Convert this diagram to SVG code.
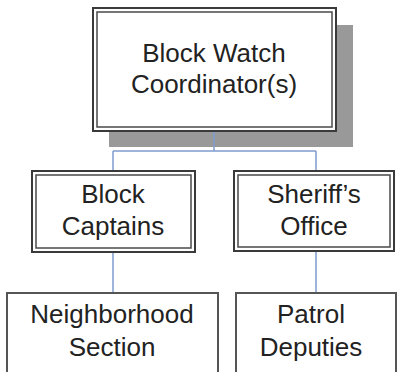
<svg xmlns="http://www.w3.org/2000/svg" width="398" height="372" viewBox="0 0 398 372">
<style>
.outer{fill:#fff;stroke:#3a3a3a;stroke-width:2}
.inner{fill:none;stroke:#4a4a4a;stroke-width:1.5}
.single{fill:#fff;stroke:#555;stroke-width:2}
.conn{fill:none;stroke:#7f9ccf;stroke-width:1.5}
text{font-family:"Liberation Sans",Arial,sans-serif;font-size:26px;fill:#222;text-anchor:middle}
</style>
<rect x="109" y="25" width="244" height="122" fill="#999"/>
<g id="connectors">
<path class="conn" d="M214 131V151M113 151H316M113 151V171M316 151V171M113 252V293M316 251V293"/>
</g>
<g id="coordinator">
<rect class="outer" x="93" y="8" width="243" height="123"/>
<rect class="inner" x="97" y="12" width="235" height="115"/>
<text x="214" y="62">Block Watch</text>
<text x="214" y="93">Coordinator(s)</text>
</g>
<g id="captains">
<rect class="outer" x="32" y="171" width="163" height="81"/>
<rect class="inner" x="36" y="175" width="155" height="73"/>
<text x="113" y="203">Block</text>
<text x="113" y="235">Captains</text>
</g>
<g id="sheriff">
<rect class="outer" x="234" y="171" width="160" height="80"/>
<rect class="inner" x="238" y="175" width="152" height="72"/>
<text x="314" y="203">Sheriff’s</text>
<text x="314" y="235">Office</text>
</g>
<g id="neighborhood">
<rect class="single" x="7" y="293" width="211" height="100"/>
<text x="112" y="323">Neighborhood</text>
<text x="112" y="356">Section</text>
</g>
<g id="patrol">
<rect class="single" x="236" y="293" width="160" height="100"/>
<text x="311" y="323">Patrol</text>
<text x="311" y="356">Deputies</text>
</g>
</svg>
